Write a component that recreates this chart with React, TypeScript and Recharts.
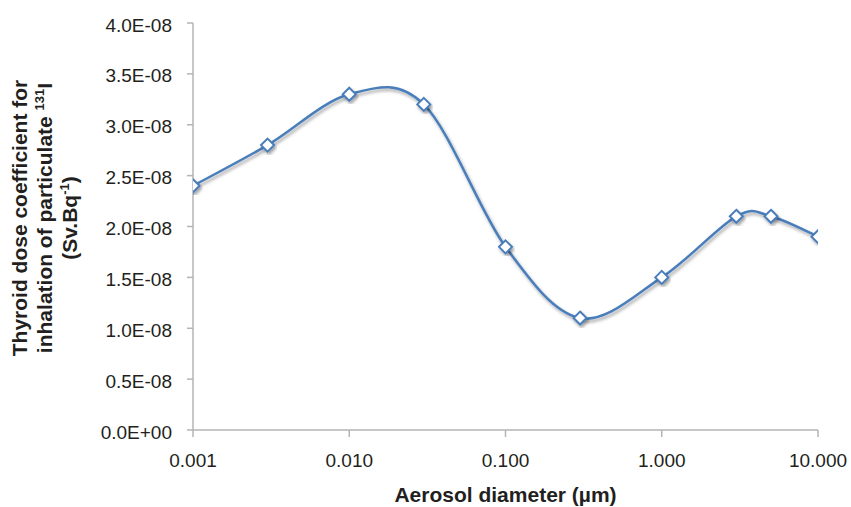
import React from 'react';
import { LineChart, Line, XAxis, YAxis } from 'recharts';

// aerosol diameter (µm) and thyroid dose coefficient (Sv/Bq)
const diameters = [0.001, 0.003, 0.01, 0.03, 0.1, 0.3, 1, 3, 5, 10];
const doseCoefficients = [2.4e-8, 2.8e-8, 3.3e-8, 3.2e-8, 1.8e-8, 1.1e-8, 1.5e-8, 2.1e-8, 2.1e-8, 1.9e-8];
const xTicks = [0.001, 0.01, 0.1, 1, 10];
const yTicks = [0, 0.5e-8, 1e-8, 1.5e-8, 2e-8, 2.5e-8, 3e-8, 3.5e-8, 4e-8];

const data = diameters.map((d, i) => ({ d, dose: doseCoefficients[i] }));

const FONT = '"Liberation Sans", Arial, Helvetica, sans-serif';
const TEXT = '#231f20';
const BLUE = '#4a7ebb';
const AXIS = '#b5b5b5';

const fmtY = (v: number) => (v === 0 ? '0.0E+00' : `${(v * 1e8).toFixed(1)}E-08`);
const fmtX = (v: number) => v.toFixed(3);

// Excel-like smoothed line (Catmull-Rom to bezier)
const excelSmooth = (context: any) => {
  let pts: [number, number][] = [];
  return {
    areaStart() {},
    areaEnd() {},
    lineStart() {
      pts = [];
    },
    point(x: number, y: number) {
      pts.push([+x, +y]);
    },
    lineEnd() {
      const n = pts.length;
      if (!n) return;
      context.moveTo(pts[0][0], pts[0][1]);
      for (let i = 0; i < n - 1; i++) {
        const p0 = pts[Math.max(i - 1, 0)];
        const p1 = pts[i];
        const p2 = pts[i + 1];
        const p3 = pts[Math.min(i + 2, n - 1)];
        context.bezierCurveTo(
          p1[0] + (p2[0] - p0[0]) / 6,
          p1[1] + (p2[1] - p0[1]) / 6,
          p2[0] - (p3[0] - p1[0]) / 6,
          p2[1] - (p3[1] - p1[1]) / 6,
          p2[0],
          p2[1]
        );
      }
    },
  };
};

const Diamond = (props: any) => {
  const { cx, cy, index } = props;
  if (cx == null || cy == null) return null;
  const r = 6.5;
  return (
    <path
      key={`dot-${index}`}
      d={`M${cx},${cy - r}L${cx + r},${cy}L${cx},${cy + r}L${cx - r},${cy}Z`}
      fill="#fff"
      stroke={BLUE}
      strokeWidth={2}
      filter="url(#lineShadow)"
    />
  );
};

const XTick = (props: any) => {
  const { x, y, payload } = props;
  return (
    <text x={x} y={y} dy={14} textAnchor="middle" fontFamily={FONT} fontSize={19} fill={TEXT}>
      {fmtX(payload.value)}
    </text>
  );
};

const YTick = (props: any) => {
  const { x, y, payload } = props;
  return (
    <text x={x} y={y} dy={8.5} textAnchor="end" fontFamily={FONT} fontSize={19} fill={TEXT}>
      {fmtY(payload.value)}
    </text>
  );
};

const YTitle = () => {
  const cy = 218;
  return (
    <g fontFamily={FONT} fontWeight="bold" fontSize={21} fill={TEXT} textAnchor="middle">
      <text transform={`translate(27,${cy}) rotate(-90)`}>Thyroid dose coefficient for</text>
      <text transform={`translate(52,${cy}) rotate(-90)`}>
        inhalation of particulate <tspan fontSize={13} dy={-8}>131</tspan>
        <tspan dy={8}>I</tspan>
      </text>
      <text transform={`translate(77,${cy}) rotate(-90)`}>
        (Sv.Bq<tspan fontSize={13} dy={-8}>-1</tspan>
        <tspan dy={8}>)</tspan>
      </text>
    </g>
  );
};

const XTitle = (props: any) => {
  const vb = props.viewBox || {};
  const cx = vb.x + vb.width / 2;
  return (
    <text x={cx} y={502} textAnchor="middle" fontFamily={FONT} fontWeight="bold" fontSize={21} fill={TEXT}>
      Aerosol diameter (µm)
    </text>
  );
};

export default function App() {
  return (
    <div style={{ position: 'absolute', left: 0, top: 0, width: 851, height: 507, background: '#fff' }}>
      <svg style={{ width: 0, height: 0, position: 'absolute' }}>
        <defs>
          <filter id="lineShadow" x="-20%" y="-20%" width="140%" height="140%">
            <feDropShadow dx="1.5" dy="2.5" stdDeviation="1.4" floodColor="#000" floodOpacity="0.35" />
          </filter>
        </defs>
      </svg>
      <LineChart width={851} height={507} data={data} margin={{ top: 23, right: 33, bottom: 0, left: 0 }}>
        <XAxis
          dataKey="d"
          type="number"
          scale="log"
          domain={[0.001, 10]}
          ticks={xTicks}
          height={77}
          tickSize={7}
          tickMargin={16}
          stroke={AXIS}
          strokeWidth={1.5}
          tick={<XTick />}
          allowDataOverflow
          label={{ content: (p: any) => <XTitle {...p} /> }}
        />
        <YAxis
          type="number"
          domain={[0, 4e-8]}
          ticks={yTicks}
          width={193}
          tickSize={6}
          tickMargin={15}
          stroke={AXIS}
          strokeWidth={1.5}
          interval={0}
          tick={<YTick />}
          label={{ content: () => <YTitle /> }}
        />
        <Line
          dataKey="dose"
          type={excelSmooth as any}
          stroke={BLUE}
          strokeWidth={2.5}
          filter="url(#lineShadow)"
          dot={<Diamond />}
          activeDot={false}
          isAnimationActive={false}
        />
      </LineChart>
    </div>
  );
}
